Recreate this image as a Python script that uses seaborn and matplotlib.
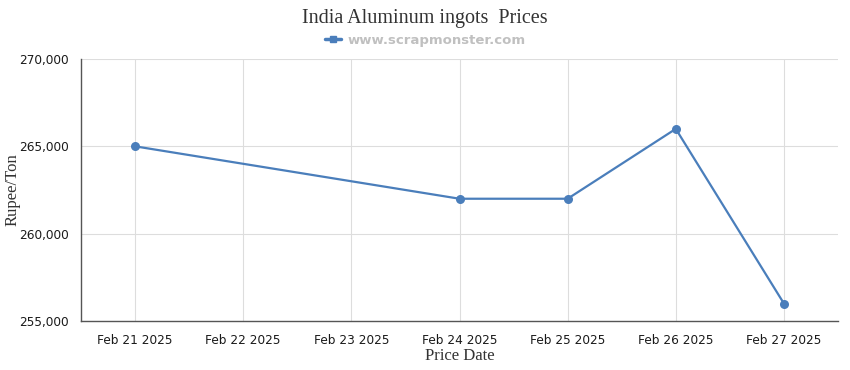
import pandas as pd
import seaborn as sb
import matplotlib.pyplot as plt
import matplotlib.dates as mdates
from matplotlib.lines import Line2D
from matplotlib.ticker import FuncFormatter

# Price points
dates = ["2025-02-21", "2025-02-24", "2025-02-25", "2025-02-26", "2025-02-27"]
prices = [265000, 262000, 262000, 266000, 256000]
tick_dates = ["2025-02-21", "2025-02-22", "2025-02-23", "2025-02-24",
              "2025-02-25", "2025-02-26", "2025-02-27"]

df = pd.DataFrame({"Price Date": pd.to_datetime(dates), "Price": prices})
blue = "#4a7ebb"
serif = "Liberation Serif"

sb.set_style("white")
plt.rcParams["font.family"] = ["DejaVu Sans"]

fig = plt.figure(figsize=(8.5, 3.7), dpi=100)
ax = fig.add_axes([81 / 850, 1 - 321 / 370, (838 - 81) / 850, (321 - 59) / 370])

sb.lineplot(data=df, x="Price Date", y="Price", color=blue, linewidth=1.6,
            marker="o", markersize=6.5, markeredgewidth=0, ax=ax)

ticks = pd.to_datetime(tick_dates)
ax.set_xticks(ticks)
ax.xaxis.set_major_formatter(mdates.DateFormatter("%b %d %Y"))
ax.set_xlim(ticks[0] - pd.Timedelta(hours=12), ticks[-1] + pd.Timedelta(hours=12))
ax.set_ylim(255000, 270000)
ax.set_yticks([255000, 260000, 265000, 270000])
ax.yaxis.set_major_formatter(FuncFormatter(lambda v, p: f"{int(v):,}"))

ax.grid(True, color="#dddddd", linewidth=0.8)
ax.set_axisbelow(True)
for s in ["top", "right"]:
    ax.spines[s].set_visible(False)
for s in ["left", "bottom"]:
    ax.spines[s].set_color("#555555")
    ax.spines[s].set_linewidth(1)
ax.tick_params(axis="both", length=5, width=1, color="#555555",
               labelsize=8.7, labelcolor="#1a1a1a", direction="out")
ax.tick_params(axis="x", pad=4)

ax.set_xlabel("Price Date", family=serif, fontsize=12, color="#333333", labelpad=1)
ax.set_ylabel("Rupee/Ton", family=serif, fontsize=12, color="#333333")
ax.yaxis.set_label_coords(-0.08, 0.5)

fig.suptitle("India Aluminum ingots  Prices", family=serif, fontsize=14.5,
             color="#333333", y=0.975)
handle = Line2D([], [], color=blue, linewidth=2.5, marker="s", markersize=5)
fig.legend([handle], ["www.scrapmonster.com"], loc="center", bbox_to_anchor=(0.5, 0.891),
           frameon=False, handlelength=1.2, handletextpad=0.5,
           prop={"weight": "bold", "size": 9.5}, labelcolor="#c0c0c0")

fig.savefig("out.png", dpi=100)
